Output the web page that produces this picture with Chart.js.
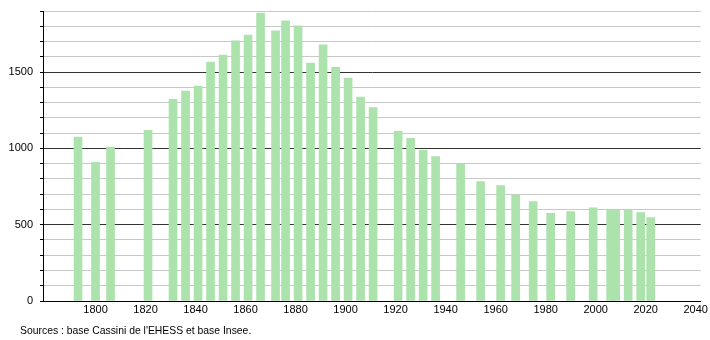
<!DOCTYPE html>
<html>
<head>
<meta charset="utf-8">
<script src="https://cdn.jsdelivr.net/npm/chart.js@4"></script>
<style>
    body { margin: 0; background: #fff; }
    #wrap { position: relative; width: 710px; height: 340px; }
    #sources {
        position: absolute;
        left: 20px;
        top: 325px;
        font: 10.4px "Liberation Sans", Arial, sans-serif;
        color: #000;
        white-space: nowrap;
    }
</style>
</head>
<body>
<div id="wrap">
    <canvas id="chart" width="710" height="340"></canvas>
    <div id="sources">Sources : base Cassini de l'EHESS et base Insee.</div>
</div>
<script>
// Census years and population
const years = [1793, 1800, 1806, 1821, 1831, 1836, 1841, 1846, 1851, 1856, 1861, 1866, 1872, 1876,
    1881, 1886, 1891, 1896, 1901, 1906, 1911, 1921, 1926, 1931, 1936, 1946, 1954, 1962, 1968,
    1975, 1982, 1990, 1999, 2006, 2008, 2013, 2018, 2022];
const population = [1074, 908, 1009, 1118, 1322, 1375, 1408, 1566, 1612, 1704, 1743, 1886, 1770, 1836,
    1803, 1559, 1678, 1531, 1461, 1336, 1268, 1112, 1066, 987, 947, 899, 783, 757, 695,
    651, 574, 586, 611, 597, 598, 597, 579, 547];

// Axis ticks
const xTicks = [1800, 1820, 1840, 1860, 1880, 1900, 1920, 1940, 1960, 1980, 2000, 2020, 2040];

const font = { family: "'Liberation Sans', Arial, sans-serif", size: 11 };

const points = years.map((year, i) => ({ x: year, y: population[i] }));

new Chart(document.getElementById("chart").getContext("2d"), {
    type: "bar",
    data: {
        datasets: [
            {
                data: points,
                backgroundColor: "rgb(172, 226, 172)",
                borderWidth: 0,
                barThickness: 8,
            },
        ],
    },
    options: {
        responsive: false,
        animation: false,
        layout: {
            padding: { top: 11, right: 9, left: 0, bottom: 0 },
        },
        plugins: {
            legend: { display: false },
            tooltip: { enabled: false },
        },
        scales: {
            x: {
                type: "linear",
                min: 1779,
                max: 2042,
                offset: false,
                grid: { display: false, drawTicks: false, offset: false },
                border: { display: true, color: "#000", width: 1 },
                ticks: {
                    color: "#000",
                    font: font,
                    padding: 2,
                    maxRotation: 0,
                    callback: (v) => String(v),
                },
                afterBuildTicks: (scale) => {
                    scale.ticks = xTicks.map((v) => ({ value: v }));
                },
                afterFit: (scale) => {
                    scale.height = 39;
                },
            },
            y: {
                min: 0,
                max: 1900,
                grid: {
                    color: (ctx) => (ctx.tick && ctx.tick.value % 500 === 0 ? "#333" : "#c8c8c8"),
                    tickColor: "#000",
                    tickLength: 3,
                    lineWidth: 1,
                },
                border: { display: true, color: "#000", width: 1 },
                ticks: {
                    stepSize: 100,
                    color: "#000",
                    font: font,
                    padding: 7,
                    autoSkip: false,
                    callback: (v) => (v % 500 === 0 ? String(v) : ""),
                },
                afterFit: (scale) => {
                    scale.width = 43;
                    // don't let label half-heights push the plot area
                    scale.paddingTop = 0;
                    scale.paddingBottom = 0;
                },
            },
        },
    },
});
</script>
</body>
</html>
